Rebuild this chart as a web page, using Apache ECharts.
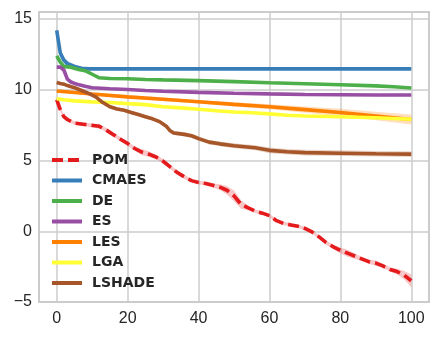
<!DOCTYPE html>
<html><head><meta charset="utf-8">
<script src="https://cdn.jsdelivr.net/npm/echarts@6/dist/echarts.min.js"></script>
<style>html,body{margin:0;padding:0;background:#fff}#c{width:442px;height:339px}</style>
</head><body><div id="c"></div>
<script>
const names = ['POM','CMAES','DE','ES','LES','LGA','LSHADE'];
const colors = ['#e41a1c','#377eb8','#4daf4a','#984ea3','#ff7f00','#ffff33','#a65628'];
const xTicks = [0,20,40,60,80,100];
const yTicks = [-5,0,5,10,15];

const pomX = [0,1,2,3,5,8,12,14,16,18,20,22,24,26,28,30,32,34,36,38,40,42,44,46,48,50,52,54,56,58,60,62,64,66,68,70,72,74,76,78,80,82,84,86,88,90,92,94,96,98,100];
const pomY = [9.3,8.6,8.1,7.9,7.65,7.55,7.42,7.15,6.83,6.5,6.2,5.85,5.6,5.45,5.25,4.95,4.55,4.15,3.85,3.58,3.45,3.38,3.25,3.12,2.9,2.5,1.9,1.65,1.42,1.28,1.1,0.75,0.55,0.45,0.35,0.2,-0.05,-0.4,-0.8,-1.1,-1.35,-1.55,-1.75,-1.95,-2.15,-2.25,-2.45,-2.7,-2.85,-3.1,-3.5];
const pomS = [0.1,0.15,0.15,0.12,0.12,0.12,0.15,0.15,0.15,0.15,0.15,0.15,0.2,0.2,0.15,0.15,0.15,0.15,0.15,0.12,0.12,0.12,0.15,0.2,0.3,0.38,0.3,0.15,0.12,0.12,0.12,0.12,0.12,0.12,0.12,0.12,0.12,0.12,0.15,0.15,0.2,0.25,0.2,0.15,0.15,0.18,0.15,0.15,0.2,0.3,0.45];

const cmaesX = [0,1,2,3,5,7,9,100];
const cmaesY = [14.2,12.6,12.1,11.85,11.65,11.52,11.48,11.48];
const cmaesS = [0.3,0.3,0.25,0.2,0.15,0.08,0.03,0.03];

const deX = [0,1,2,4,6,8,10,12,15,20,25,30,40,50,60,70,80,90,95,100];
const deY = [12.4,11.95,11.65,11.6,11.45,11.35,11.1,10.85,10.8,10.78,10.73,10.7,10.65,10.58,10.5,10.43,10.36,10.28,10.22,10.13];
const deS = [0.1,0.15,0.15,0.15,0.15,0.12,0.1,0.08,0.08,0.08,0.08,0.08,0.08,0.08,0.08,0.08,0.08,0.08,0.08,0.08];

const esX = [0,1,2,3,4,5,6,8,10,15,20,25,30,40,50,60,70,80,90,100];
const esY = [11.6,11.6,11.4,10.75,10.55,10.45,10.38,10.25,10.15,10.08,10.02,9.95,9.9,9.82,9.76,9.71,9.67,9.65,9.63,9.63];
const esS = [0.05,0.05,0.08,0.1,0.1,0.08,0.08,0.06,0.06,0.06,0.06,0.06,0.06,0.06,0.06,0.06,0.06,0.06,0.06,0.06];

const lesX = [0,10,20,30,40,50,60,70,80,90,100];
const lesY = [9.92,9.7,9.5,9.33,9.15,8.97,8.8,8.6,8.4,8.15,7.9];
const lesS = [0.1,0.1,0.1,0.12,0.12,0.15,0.18,0.22,0.26,0.3,0.35];

const lgaX = [0,2,5,10,15,20,25,30,35,40,45,50,55,60,65,70,80,90,100];
const lgaY = [9.37,9.3,9.22,9.15,9.1,9.02,8.95,8.8,8.72,8.62,8.52,8.43,8.38,8.3,8.2,8.15,8.1,8.02,7.92];
const lgaS = [0.06,0.06,0.06,0.06,0.06,0.06,0.06,0.07,0.07,0.07,0.08,0.08,0.08,0.08,0.08,0.08,0.09,0.1,0.1];

const lshX = [0,1,2,3,5,7,9,11,13,15,17,19,21,23,25,27,29,31,32,33,36,38,40,43,46,50,53,56,60,65,70,80,90,100];
const lshY = [10.52,10.45,10.4,10.3,10.15,9.95,9.75,9.5,9.1,8.8,8.65,8.55,8.4,8.25,8.1,7.95,7.75,7.4,7.1,6.95,6.85,6.75,6.55,6.3,6.18,6.05,5.98,5.9,5.72,5.62,5.56,5.52,5.48,5.45];
const lshS = [0.08,0.08,0.08,0.08,0.1,0.1,0.1,0.1,0.12,0.12,0.12,0.12,0.12,0.12,0.12,0.12,0.14,0.15,0.15,0.15,0.15,0.15,0.16,0.16,0.17,0.18,0.18,0.18,0.2,0.2,0.2,0.2,0.2,0.2,0.22];

const seriesDefs = [
  [pomX,pomY,pomS],[cmaesX,cmaesY,cmaesS],[deX,deY,deS],[esX,esY,esS],
  [lesX,lesY,lesS],[lgaX,lgaY,lgaS],[lshX,lshY,lshS]
];

const series = [];
seriesDefs.forEach(([xs,ys,ss],k)=>{
  series.push({
    type:'custom', silent:true, z:1 + k*2, clip:true,
    data:[[xs[0],ys[0]]],
    renderItem:(params,api)=>{
      const pts=[];
      for(let i=0;i<xs.length;i++) pts.push(api.coord([xs[i], ys[i]+(ss[i]||0.1)]));
      for(let i=xs.length-1;i>=0;i--) pts.push(api.coord([xs[i], ys[i]-(ss[i]||0.1)]));
      return {type:'polygon', shape:{points:pts}, style:{fill:colors[k], opacity:0.25}};
    }
  });
  series.push({
    name:names[k], type:'line', symbol:'none', z:2 + k*2,
    data: xs.map((x,i)=>[x,ys[i]]),
    lineStyle:{color:colors[k], width: 3.6, type: k===0 ? [11,5] : 'solid', cap: 'butt'},
    itemStyle:{color:colors[k]}
  });
});

const chart = echarts.init(document.getElementById('c'), null, {renderer:'canvas'});
chart.setOption({
  animation:false,
  backgroundColor:'#ffffff',
  grid:{left:39, top:12, right:13, bottom:37, show:true, borderColor:'#cccccc', borderWidth:2, backgroundColor:'#ffffff'},
  legend:{orient:'vertical', left:50, top:153, padding:0, itemWidth:30, itemHeight:14, itemGap:6.5,
    data:names,
    itemStyle:{opacity:0},
    lineStyle:{width:4},
    textStyle:{fontFamily:'DejaVu Sans', fontWeight:'bold', fontSize:14, color:'#262626', padding:[0,0,0,5]}},
  xAxis:{type:'value', min:-5, max:105, splitNumber:5, minInterval:20, maxInterval:20,
    axisLine:{show:false}, axisTick:{show:false},
    splitLine:{show:true, lineStyle:{color:'#cccccc', width:1.5}},
    axisLabel:{margin:9, fontFamily:'Liberation Sans', fontSize:16, color:'#262626',
      formatter:v=> xTicks.includes(v) ? String(v) : ''}},
  yAxis:{type:'value', min:-5, max:15.5, interval:5,
    axisLine:{show:false}, axisTick:{show:false},
    splitLine:{show:true, lineStyle:{color:'#cccccc', width:1.5}},
    axisLabel:{margin:7, fontFamily:'Liberation Sans', fontSize:16, color:'#262626',
      formatter:v=> yTicks.includes(v) ? (v<0 ? '\u2212'+Math.abs(v) : String(v)) : ''}},
  series
});
</script></body></html>
